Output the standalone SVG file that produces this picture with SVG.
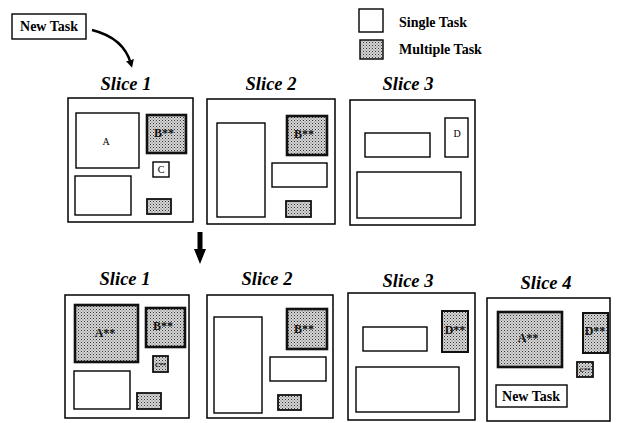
<svg xmlns="http://www.w3.org/2000/svg" width="618" height="423" viewBox="0 0 618 423">
<style>
.frame{fill:#fff;stroke:#000;stroke-width:1.5}
.single{fill:#fff;stroke:#000;stroke-width:1.4}
.multi{fill:url(#dots);stroke:#111;stroke-width:2.6}
.title{font-family:"Liberation Serif",serif;font-weight:bold;font-style:italic;font-size:18.5px;text-anchor:middle}
.lbl{font-family:"Liberation Serif",serif;font-weight:bold;font-size:14px}
.in{font-family:"Liberation Serif",serif;font-size:10px;text-anchor:middle}
.blob{font-family:"Liberation Serif",serif;font-weight:bold;font-size:12px;text-anchor:middle;fill:#111}
.tiny{font-size:6.5px}
.conn{fill:none;stroke:#000;stroke-width:2.5}
</style>
<defs>
<pattern id="dots" width="3" height="3" patternUnits="userSpaceOnUse">
<rect width="3" height="3" fill="#d6d6d6"/>
<rect width="1" height="1" fill="#333"/>
<rect x="1.5" y="1.5" width="1" height="1" fill="#666"/>
</pattern>
<marker id="ah" markerWidth="8" markerHeight="8" refX="4" refY="4" orient="auto" markerUnits="userSpaceOnUse" viewBox="0 0 8 8">
<path d="M0,0 L8,4 L0,8 Z" fill="#000"/>
</marker>
</defs>

<g id="new-task-top">
<rect class="single" x="12" y="14" width="74" height="25"/>
<text class="lbl" x="49" y="31" text-anchor="middle">New Task</text>
</g>

<g id="legend">
<rect class="single" x="359" y="9" width="24" height="23"/>
<text class="lbl" x="399" y="27">Single Task</text>
<rect class="multi" x="360" y="40" width="23" height="19" style="stroke-width:1.5"/>
<text class="lbl" x="399" y="54">Multiple Task</text>
</g>

<g id="connectors">
<path class="conn" d="M92,30 Q124,38 131,64" marker-end="url(#ah)"/>
<path d="M197.5,232 L202.5,232 L202.5,249 L206,249 L200,264 L194,249 L197.5,249 Z" fill="#000"/>
</g>

<g id="top-slice1">
<text class="title" x="126" y="90">Slice 1</text>
<rect class="frame" x="68" y="98" width="125" height="124"/>
<rect class="single" x="76" y="113" width="63" height="55"/>
<text class="in" x="106" y="145">A</text>
<rect class="multi" x="147" y="115" width="39" height="38"/>
<text class="blob" x="164" y="137">B**</text>
<rect class="single" x="153" y="162" width="16" height="15"/>
<text class="in" x="161" y="173">C</text>
<rect class="single" x="75" y="176" width="56" height="39"/>
<rect class="multi" x="147" y="199" width="24" height="15" style="stroke-width:1.8"/>
</g>

<g id="top-slice2">
<text class="title" x="271" y="90">Slice 2</text>
<rect class="frame" x="207" y="99" width="128" height="125"/>
<rect class="single" x="217" y="123" width="48" height="94"/>
<rect class="multi" x="287" y="116" width="40" height="39"/>
<text class="blob" x="304" y="138">B**</text>
<rect class="single" x="272" y="163" width="55" height="24"/>
<rect class="multi" x="286" y="201" width="25" height="16" style="stroke-width:1.8"/>
</g>

<g id="top-slice3">
<text class="title" x="408" y="90">Slice 3</text>
<rect class="frame" x="350" y="100" width="125" height="125"/>
<rect class="single" x="365" y="133" width="65" height="24"/>
<rect class="single" x="445" y="118" width="23" height="39"/>
<text class="in" x="457" y="137">D</text>
<rect class="single" x="357" y="172" width="104" height="46"/>
</g>

<g id="bottom-slice1">
<text class="title" x="125" y="285">Slice 1</text>
<rect class="frame" x="65" y="295" width="124" height="123"/>
<rect class="multi" x="75" y="305" width="63" height="57"/>
<text class="blob" x="105" y="337">A**</text>
<rect class="multi" x="146" y="308" width="39" height="39"/>
<text class="blob" x="163" y="330">B**</text>
<rect class="multi" x="153" y="356" width="15" height="16" style="stroke-width:1.8"/>
<text class="blob tiny" x="160.5" y="366.5">C**</text>
<rect class="single" x="74" y="371" width="56" height="38"/>
<rect class="multi" x="137" y="393" width="24" height="16" style="stroke-width:1.8"/>
</g>

<g id="bottom-slice2">
<text class="title" x="267" y="285">Slice 2</text>
<rect class="frame" x="207" y="295" width="126" height="123"/>
<rect class="single" x="214" y="317" width="48" height="96"/>
<rect class="multi" x="287" y="309" width="40" height="40"/>
<text class="blob" x="304" y="333">B**</text>
<rect class="single" x="270" y="357" width="56" height="24"/>
<rect class="multi" x="278" y="395" width="23" height="15" style="stroke-width:1.8"/>
</g>

<g id="bottom-slice3">
<text class="title" x="408" y="287">Slice 3</text>
<rect class="frame" x="348" y="293" width="127" height="127"/>
<rect class="single" x="363" y="327" width="64" height="24"/>
<rect class="multi" x="442" y="311" width="26" height="41" style="stroke-width:2"/>
<text class="blob" x="455" y="334">D**</text>
<rect class="single" x="356" y="367" width="103" height="45"/>
</g>

<g id="bottom-slice4">
<text class="title" x="546" y="289">Slice 4</text>
<rect class="frame" x="487" y="298" width="123" height="123"/>
<rect class="multi" x="498" y="312" width="64" height="55"/>
<text class="blob" x="528" y="342">A**</text>
<rect class="multi" x="583" y="313" width="25" height="40" style="stroke-width:2"/>
<text class="blob" x="595" y="335">D**</text>
<rect class="multi" x="577" y="362" width="16" height="15" style="stroke-width:1.8"/>
<text class="blob tiny" x="585" y="372">C**</text>
<rect class="single" x="496" y="385" width="71" height="22"/>
<text class="lbl" x="531" y="401" text-anchor="middle">New Task</text>
</g>
</svg>
